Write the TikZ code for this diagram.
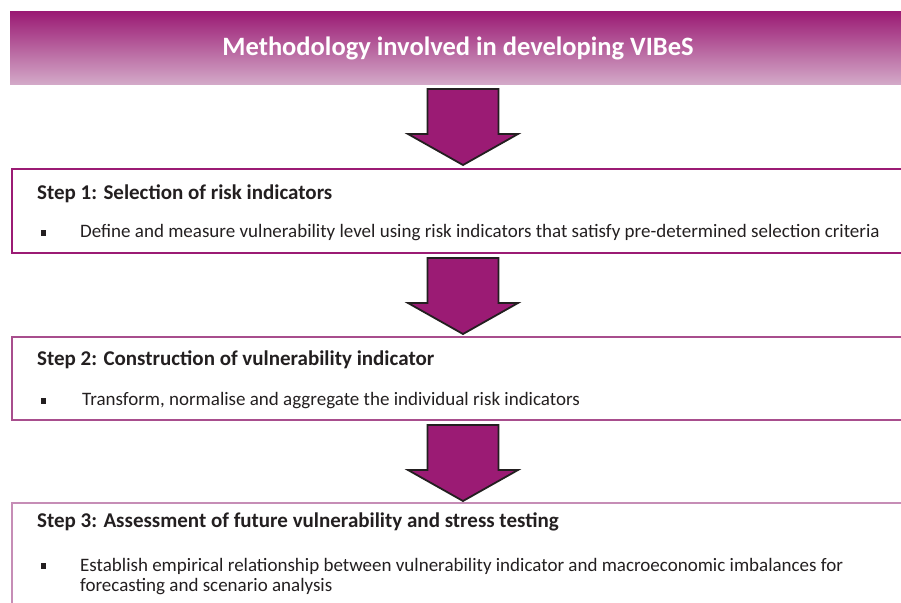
\documentclass[tikz,border=0pt]{standalone}
\usepackage{fontspec}
\setmainfont{Carlito}
\definecolor{mag}{HTML}{9B1B74}
\definecolor{magmid}{HTML}{A84E8D}
\definecolor{maglight}{HTML}{C68DB6}
\definecolor{bannerlow}{HTML}{D3A9C8}
\definecolor{ink}{HTML}{231F20}
\tikzset{
  stepbox/.style={line width=2pt},
  steptitle/.style={anchor=west, inner sep=0pt, font=\fontsize{21}{24}\selectfont\bfseries, text=ink},
  bodytext/.style={anchor=west, inner sep=0pt, font=\fontsize{19}{20}\selectfont, text=ink, align=left},
  bulletsq/.style={fill=ink, inner sep=0pt, minimum width=5pt, minimum height=6.5pt},
  blockarrow/.pic={
    \filldraw[fill=mag, draw=ink, line width=1.8pt, line join=miter]
      (-35.5,0) -- (35.5,0) -- (35.5,45) -- (55,45) -- (0,76) -- (-55,45) -- (-35.5,45) -- cycle;
  }
}
\begin{document}
\begin{tikzpicture}[x=1pt,y=-1pt]
\useasboundingbox (0,0) rectangle (901,602);
\clip (0,0) rectangle (901,602);
% banner
\shade[top color=mag, bottom color=bannerlow] (10,12) rectangle (901,84);
\node[font=\fontsize{26.5}{30}\selectfont\bfseries, text=white] (title) at (458,48) {Methodology involved in developing VIBeS};
% boxes
\draw[stepbox, draw=mag] (12,169) rectangle (920,253);
\draw[stepbox, draw=magmid] (12,337) rectangle (920,420);
\draw[stepbox, draw=maglight] (12,503) rectangle (920,640);
% arrows
\pic at (463,89) {blockarrow};
\pic at (463,258) {blockarrow};
\pic at (463,425) {blockarrow};
% step 1
\node[steptitle] (s1) at (37,194) {Step 1: Selection of risk indicators};
\node[bulletsq] (b1) at (43,233) {};
\node[bodytext] (t1) at (80,233) {Define and measure vulnerability level using risk indicators that satisfy pre-determined selection criteria};
% step 2
\node[steptitle] (s2) at (37,360) {Step 2: Construction of vulnerability indicator};
\node[bulletsq] (b2) at (43,401) {};
\node[bodytext] (t2) at (82,401) {Transform, normalise and aggregate the individual risk indicators};
% step 3
\node[steptitle] (s3) at (37,522) {Step 3: Assessment of future vulnerability and stress testing};
\node[bulletsq] (b3) at (43,566) {};
\node[bodytext, anchor=north west] (t3) at (80,558) {Establish empirical relationship between vulnerability indicator and macroeconomic imbalances for\\forecasting and scenario analysis};
\end{tikzpicture}
\end{document}
